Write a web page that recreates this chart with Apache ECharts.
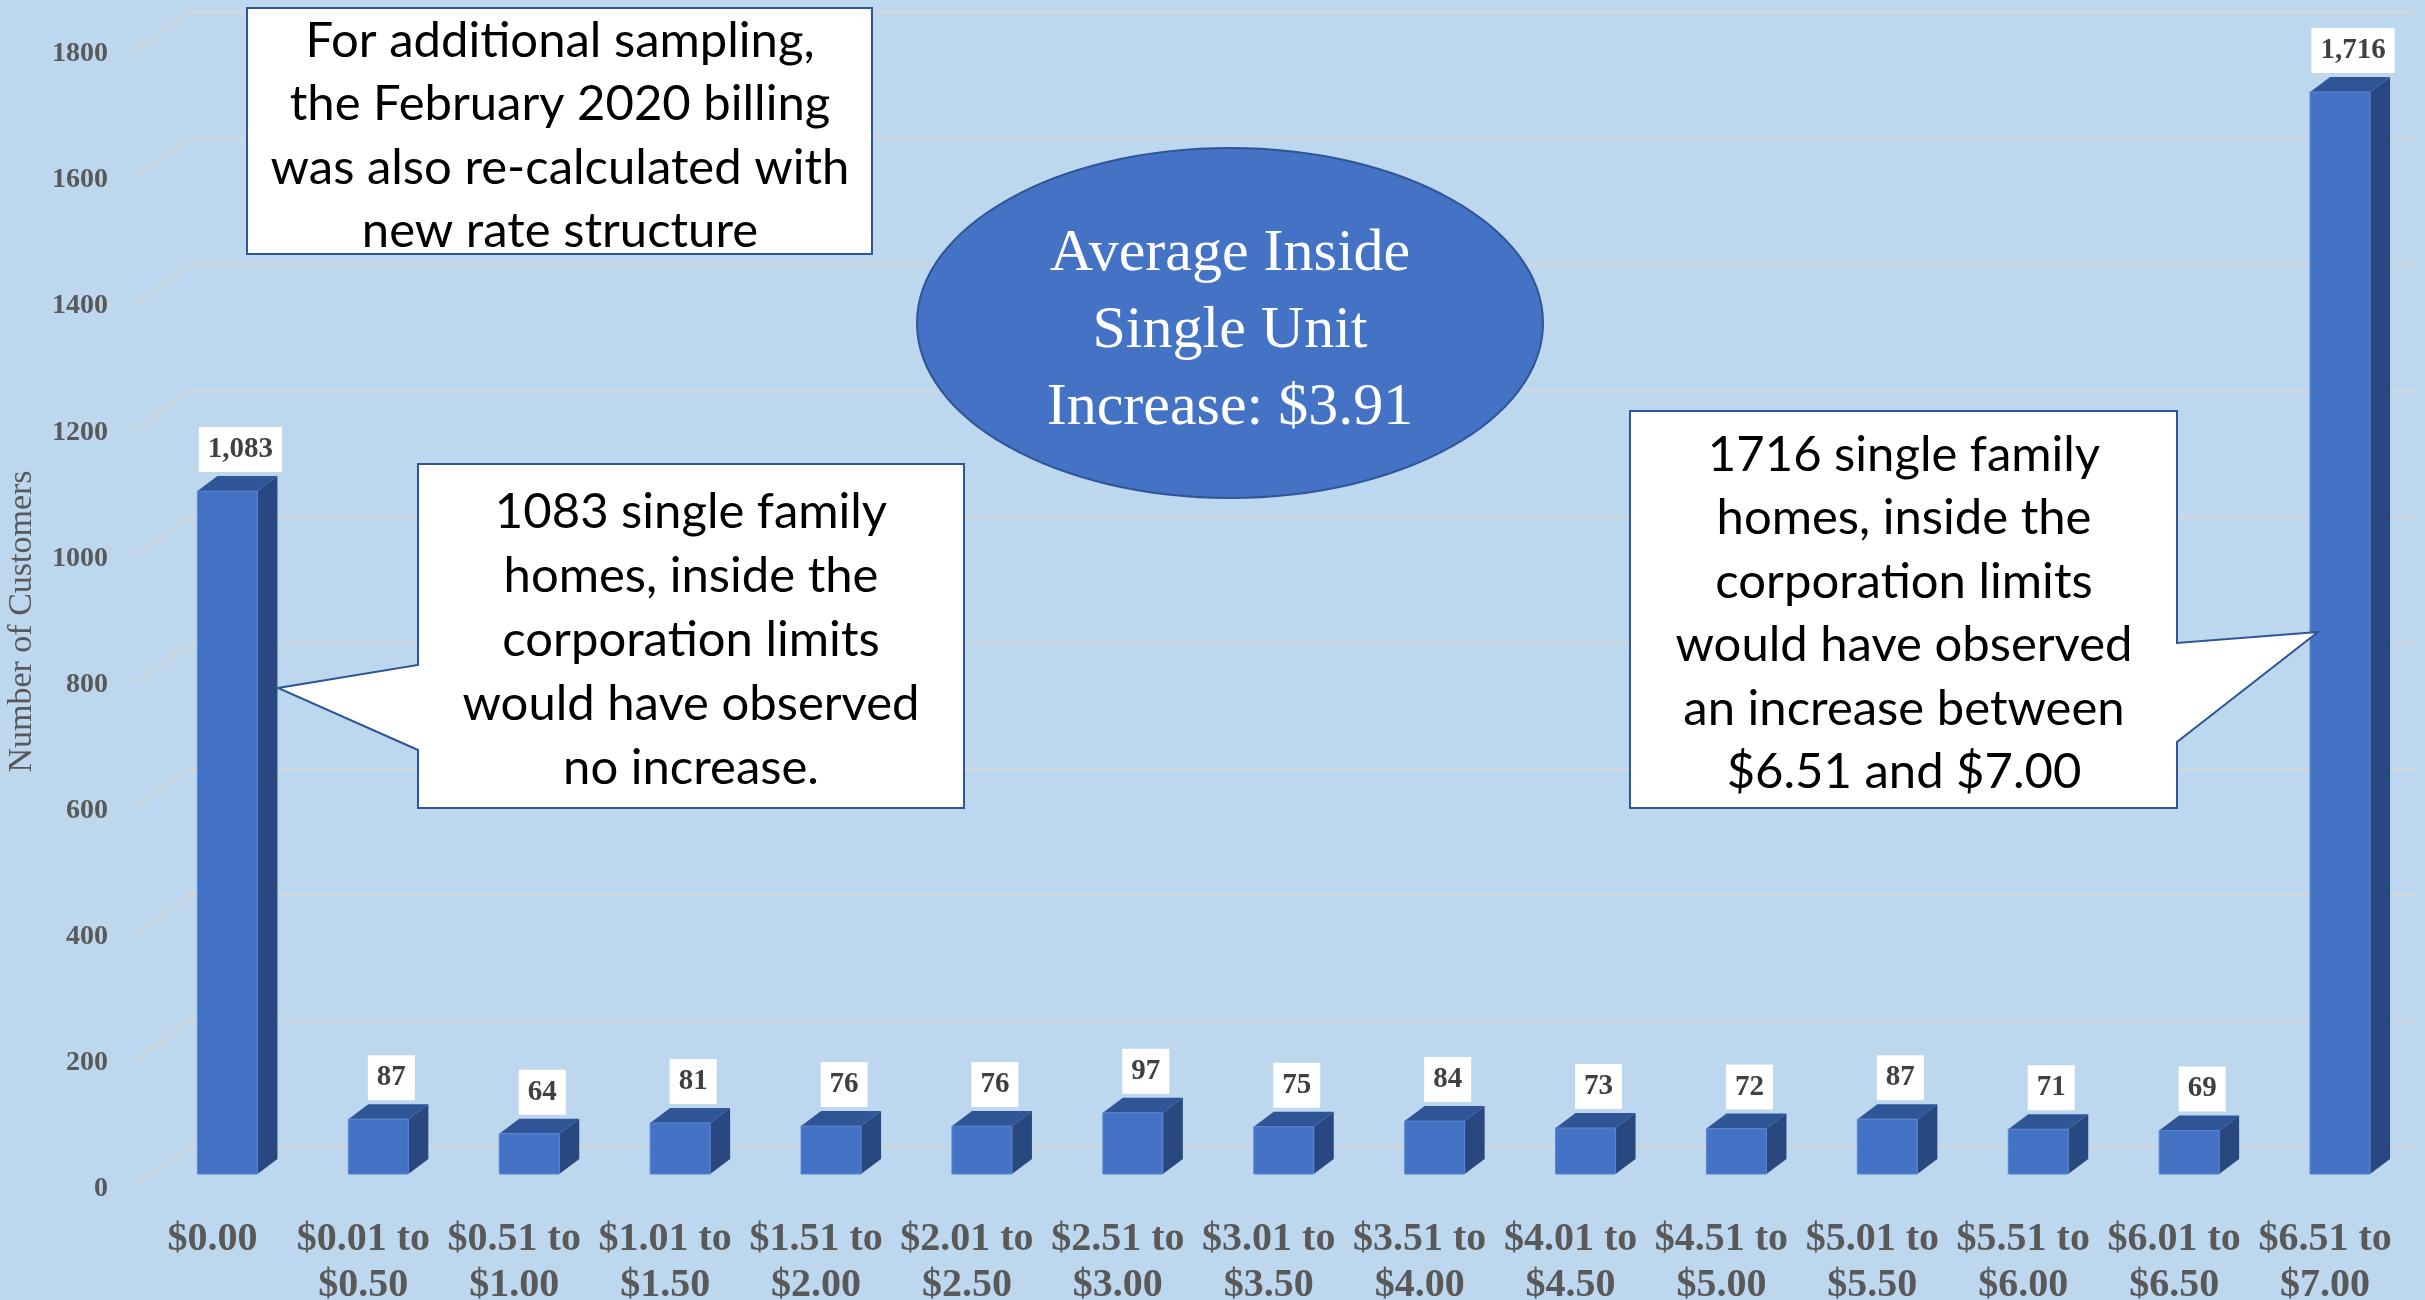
<!DOCTYPE html>
<html>
<head>
<meta charset="utf-8">
<script src="https://cdn.jsdelivr.net/npm/echarts@6/dist/echarts.min.js"></script>
<style>
  html, body { margin: 0; padding: 0; background: #BDD7EE; }
  #chart { width: 2425px; height: 1300px; }
</style>
</head>
<body>
<div id="chart"></div>
<script>
// data
const categories = [
    '$0.00', '$0.01 to\n$0.50', '$0.51 to\n$1.00', '$1.01 to\n$1.50', '$1.51 to\n$2.00',
    '$2.01 to\n$2.50', '$2.51 to\n$3.00', '$3.01 to\n$3.50', '$3.51 to\n$4.00', '$4.01 to\n$4.50',
    '$4.51 to\n$5.00', '$5.01 to\n$5.50', '$5.51 to\n$6.00', '$6.01 to\n$6.50', '$6.51 to\n$7.00'
];
const customers = [1083, 87, 64, 81, 76, 76, 97, 75, 84, 73, 72, 87, 71, 69, 1716];
const yTicks = [0, 200, 400, 600, 800, 1000, 1200, 1400, 1600, 1800];

const boxLines = ['For additional sampling,', 'the February 2020 billing', 'was also re-calculated with', 'new rate structure'];
const ovalLines = ['Average Inside', 'Single Unit', 'Increase: $3.91'];
const leftNote = ['1083 single family', 'homes, inside the', 'corporation limits', 'would have observed', 'no increase.'];
const rightNote = ['1716 single family', 'homes, inside the', 'corporation limits', 'would have observed', 'an increase between', '$6.51 and $7.00'];

// 3d look
const DX = 20, DY = 15, BAR_W = 60;
const FRONT = '#4472C4', SIDE = '#29487F', TOP = '#2F5597', EDGE = '#5B86D0';
const BORDER = '#2F5597';
const GREY = '#595959';
const SERIF = '"Liberation Serif", "Times New Roman", serif';
const SANS = 'Lato, "Open Sans", sans-serif';

const chart = echarts.init(document.getElementById('chart'));

function textLines(lines, cx, y0, step, font, fill) {
    return lines.map((t, i) => ({
        type: 'text', z: 110,
        x: cx, y: y0 + i * step,
        style: { text: t, font: font, fill: fill, align: 'center', verticalAlign: 'middle' }
    }));
}

chart.setOption({
    backgroundColor: '#BDD7EE',
    animation: false,
    grid: [
        { left: 190, right: 10, top: 12, bottom: 153, outerBoundsMode: 'none' },   // back wall
        { left: 152, right: 9.5, top: 39, bottom: 126, outerBoundsMode: 'none' },  // bars
        { left: 137, right: 24.5, top: 54, bottom: 111, outerBoundsMode: 'none' }  // front edge labels
    ],
    xAxis: [
        { gridIndex: 0, type: 'category', data: categories, show: false },
        { gridIndex: 1, type: 'category', data: categories, show: false },
        {
            gridIndex: 2, type: 'category', data: categories,
            axisLine: { show: false }, axisTick: { show: false },
            axisLabel: {
                interval: 0, margin: 28, color: GREY, fontFamily: SERIF,
                fontWeight: 'bold', fontSize: 40, lineHeight: 46
            }
        }
    ],
    yAxis: [
        {
            gridIndex: 0, type: 'value', min: 0, max: 1800, interval: 200,
            axisLine: { show: false }, axisTick: { show: false }, axisLabel: { show: false },
            splitLine: { lineStyle: { color: '#D6D6D6', width: 2 } }
        },
        { gridIndex: 1, type: 'value', min: 0, max: 1800, interval: 200, show: false, splitLine: { show: false } },
        {
            gridIndex: 2, type: 'value', min: 0, max: 1800, interval: 200,
            axisLine: { show: false }, axisTick: { show: false }, splitLine: { show: false },
            axisLabel: {
                margin: 29, color: GREY, fontFamily: SERIF, fontWeight: 'bold', fontSize: 28,
                formatter: v => String(v)
            },
            name: 'Number of Customers', nameLocation: 'middle', nameGap: 98, nameRotate: 90,
            nameTextStyle: { color: GREY, fontFamily: SERIF, fontSize: 34 }
        }
    ],
    series: [
        {
            // slanted part of the gridlines on the side wall
            type: 'custom', xAxisIndex: 0, yAxisIndex: 0,
            data: yTicks.map(v => [0, v]),
            silent: true,
            renderItem: function (params, api) {
                const y = api.coord([0, api.value(1)])[1];
                const x = params.coordSys.x;
                return {
                    type: 'line',
                    shape: { x1: x - 54, y1: y + 39, x2: x, y2: y },
                    style: { stroke: '#D6D6D6', lineWidth: 2 }
                };
            }
        },
        {
            type: 'custom', xAxisIndex: 1, yAxisIndex: 1,
            data: customers.map((v, i) => [i, v]),
            renderItem: function (params, api) {
                const v = api.value(1);
                const top = api.coord([api.value(0), v]);
                const base = api.coord([api.value(0), 0]);
                const xl = top[0] - BAR_W / 2, xr = top[0] + BAR_W / 2;
                const yt = top[1], yb = base[1];
                return {
                    type: 'group',
                    children: [
                        {
                            type: 'polygon',
                            shape: { points: [[xr, yt], [xr + DX, yt - DY], [xr + DX, yb - DY], [xr, yb]] },
                            style: { fill: SIDE }
                        },
                        {
                            type: 'polygon',
                            shape: { points: [[xl, yt], [xl + DX, yt - DY], [xr + DX, yt - DY], [xr, yt]] },
                            style: { fill: TOP }
                        },
                        {
                            type: 'rect',
                            shape: { x: xl, y: yt, width: BAR_W, height: yb - yt },
                            style: { fill: FRONT, stroke: EDGE, lineWidth: 1 }
                        },
                        {
                            type: 'text',
                            x: top[0] + 13, y: yt - DY - 4,
                            style: {
                                text: v.toLocaleString('en-US'),
                                font: 'bold 29px ' + SERIF, fill: '#404040',
                                backgroundColor: '#FFFFFF', padding: [7, 9, 7, 9], lineHeight: 31,
                                align: 'center', verticalAlign: 'bottom'
                            }
                        }
                    ]
                };
            }
        }
    ],
    graphic: [
        {
            type: 'rect', z: 100,
            shape: { x: 247, y: 8, width: 625, height: 246 },
            style: { fill: '#FFFFFF', stroke: BORDER, lineWidth: 2 }
        },
        ...textLines(boxLines, 560, 41, 63.5, '49px ' + SANS, '#000000'),
        {
            type: 'ellipse', z: 100,
            shape: { cx: 1230, cy: 323, rx: 313, ry: 175 },
            style: { fill: FRONT, stroke: BORDER, lineWidth: 2 }
        },
        ...textLines(ovalLines, 1230, 254, 77, '60px ' + SERIF, '#FFFFFF'),
        {
            type: 'polygon', z: 100,
            shape: { points: [[418, 464], [964, 464], [964, 808], [418, 808], [418, 750], [278, 688], [418, 665]] },
            style: { fill: '#FFFFFF', stroke: BORDER, lineWidth: 2 }
        },
        ...textLines(leftNote, 691, 512, 64, '49px ' + SANS, '#000000'),
        {
            type: 'polygon', z: 100,
            shape: { points: [[1630, 411], [2177, 411], [2177, 643], [2318, 632], [2177, 742], [2177, 808], [1630, 808]] },
            style: { fill: '#FFFFFF', stroke: BORDER, lineWidth: 2 }
        },
        ...textLines(rightNote, 1904, 455, 63.5, '49px ' + SANS, '#000000')
    ]
});
</script>
</body>
</html>
